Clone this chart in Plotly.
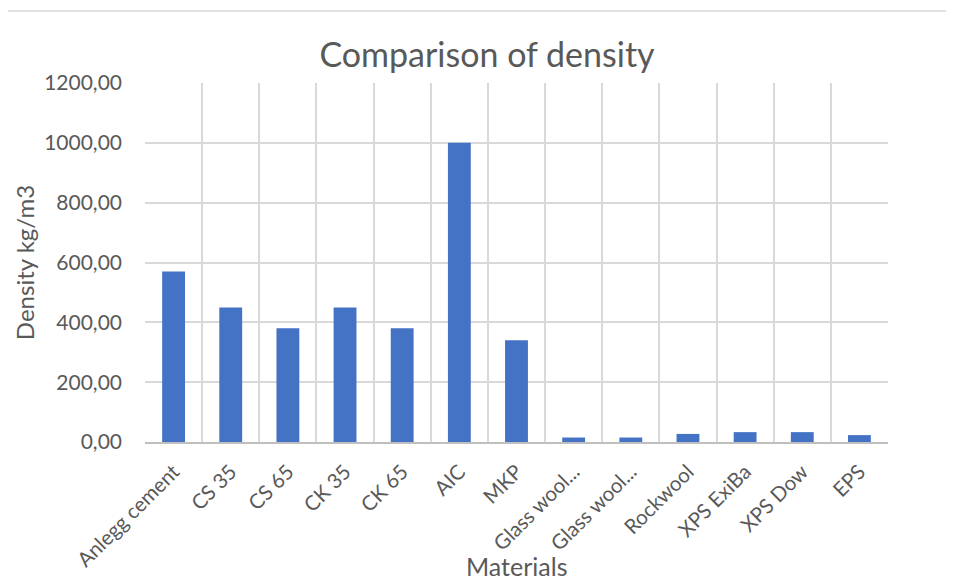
import plotly.graph_objects as go

categories = ["Anlegg cement", "CS 35", "CS 65", "CK 35", "CK 65", "AIC", "MKP",
              "Glass wool...", "Glass wool...\u200b", "Rockwool", "XPS ExiBa", "XPS Dow", "EPS"]
density = [570, 450, 380, 450, 380, 1000, 340, 15, 15, 27, 33, 33, 23]
y_ticks = [0, 200, 400, 600, 800, 1000, 1200]

FONT = "Lato"
GREY = "#595959"
OFF = 8  # page body margin compensation

L, T, PW, PH = 145 - OFF, 83 - OFF, 743, 359

fig = go.Figure(go.Bar(x=categories, y=density, marker=dict(color="#4472C4", line=dict(width=0))))

fig.update_layout(
    width=954, height=580,
    margin=dict(l=L, r=954 - L - PW, t=T, b=580 - T - PH, autoexpand=False),
    paper_bgcolor="white", plot_bgcolor="white",
    separators=", ",
    bargap=0.6,
    title=dict(text="Comparison of density", xref="container", x=(487 - OFF) / 954, xanchor="center",
               yref="container", y=1 - (55 - OFF) / 580, yanchor="middle",
               font=dict(family=FONT, size=34, color=GREY)),
    font=dict(family=FONT, color=GREY),
    showlegend=False,
)
fig.update_xaxes(
    type="category", tickson="boundaries", showgrid=True, gridcolor="#d9d9d9", gridwidth=1.5,
    showline=True, linecolor="#bfbfbf", linewidth=1.5, ticks="", automargin=False,
    tickangle=-45, ticklabelstandoff=8, tickfont=dict(family=FONT, size=20.5, color=GREY),
)
fig.update_yaxes(
    range=[0, 1200], tickvals=y_ticks, tickformat=".2f", showgrid=True, gridcolor="#d9d9d9", gridwidth=1.5,
    zeroline=False, showline=False, ticks="", ticklabelstandoff=22, automargin=False,
    tickfont=dict(family=FONT, size=21, color=GREY),
    title=dict(text="Density kg/m3", font=dict(family=FONT, size=24, color=GREY), standoff=2),
)
fig.add_annotation(text="Materials", xref="paper", yref="paper", x=0.5, y=-(566 - 442) / PH,
                   xanchor="center", yanchor="middle", showarrow=False,
                   font=dict(family=FONT, size=25, color=GREY))
# outer chart border
fig.add_shape(type="rect", xref="paper", yref="paper",
              x0=(4 - 145) / PW, x1=1.2, y0=-0.5, y1=(442 - 11) / PH,
              line=dict(color="#d9d9d9", width=1.5), fillcolor="rgba(0,0,0,0)", layer="below")

fig.write_html("out.html")
